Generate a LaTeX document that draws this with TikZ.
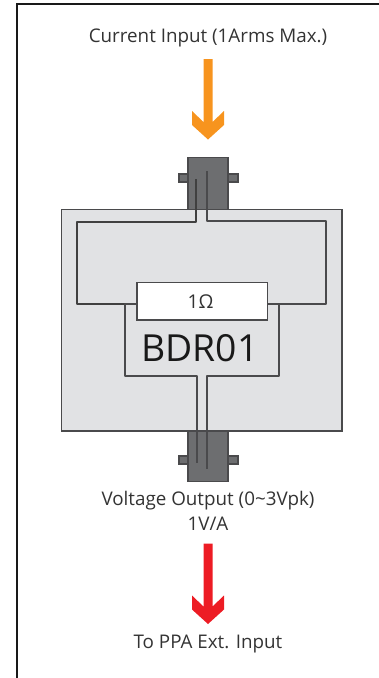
\documentclass[tikz,border=0pt]{standalone}
\usepackage{fontspec}
\setmainfont{Open Sans}
\definecolor{casegray}{HTML}{E1E2E4}
\definecolor{bncgray}{HTML}{6D6E70}
\definecolor{wiregray}{HTML}{4A4A4C}
\definecolor{inorange}{HTML}{F7941E}
\definecolor{outred}{HTML}{ED1C24}
\definecolor{labelgray}{HTML}{333333}
\tikzset{
	wire/.style={draw=wiregray, line width=1.6pt, line join=round},
	hotwire/.style={draw=black!75, line width=1.3pt, line join=round},
	label/.style={text=labelgray, font=\fontsize{18.8}{25}\selectfont, align=center, inner sep=0pt},
}
\begin{document}
\begin{tikzpicture}[x=1pt, y=-1pt]
	\useasboundingbox (0, 0) rectangle (379, 678);

	% frame
	\draw[line width=2pt, black!90] (17, 678) -- (17, 3.5) -- (379, 3.5);

	% BNC connectors
	\foreach \y/\s/\h/\name in {156.5/174/53/top, 430/456/50.5/bot} {
		\foreach \x in {179, 228}
			\draw[wiregray, fill=bncgray, line width=1.5pt] (\x, \s) rectangle ++(10, 8);
		\node[draw=wiregray, fill=bncgray, line width=1.5pt, minimum width=40pt, minimum height=\h pt, inner sep=0pt, anchor=north] (bnc\name) at (208, \y) {};
	}

	% box
	\node[draw=wiregray, fill=casegray, line width=1.5pt, minimum width=280.5pt, minimum height=221.5pt, inner sep=0pt, anchor=north west] (case) at (60.5, 208.5) {};
	\node[draw=wiregray, fill=white, line width=1.5pt, minimum width=130.5pt, minimum height=37.5pt, inner sep=0pt, anchor=north west] (res) at (136, 281.5) {};
	\node[text=labelgray, font=\fontsize{19}{19}\selectfont, inner sep=0pt, anchor=base] (ohm) at (200.5, 308) {1Ω};
	\node[text=black!90, font=\fontsize{37.3}{40}\selectfont, inner sep=0pt, anchor=base] (name) at (200, 361) {BDR01};

	\coordinate (intop) at (196, 179);
	\coordinate (gndtop) at (207, 171);
	\coordinate (inbot) at (197, 463);
	\coordinate (gndbot) at (207, 469);
	\coordinate (reswest) at (res.west |- 0, 304);
	\coordinate (reseast) at (res.east |- 0, 304);

	% wires
	\draw[hotwire] (intop) -- (196, 222) -- (77, 222) -- (77, 304) -- (reswest);
	\draw[wire] (gndtop) -- (207, 221) -- (326, 221) -- (326, 304) -- (reseast);
	\draw[wire] (reswest) -- (125, 304) -- (125, 376) -- (197, 376) -- (inbot);
	\draw[wire] (reseast) -- (279, 304) -- (279, 376) -- (207, 376) -- (gndbot);

	% labels
	\node[label] (input) at (208, 38) {Current Input (1Arms Max.)};
	\node[label] (output) at (208, 510.5) {Voltage Output (0\textasciitilde 3Vpk)\\1V/A};
	\node[label] (ppa) at (208, 644.5) {To PPA Ext. Input};

	% arrows
	\foreach \y/\arrowcolor in {59/inorange, 543.5/outred}
		\fill[\arrowcolor] (203.5, \y) -- (212.5, \y) -- (212.5, \y + 63) -- (224, \y + 52) -- (224, \y + 66) -- (208, \y + 80.5) -- (192, \y + 66) -- (192, \y + 52) -- (203.5, \y + 63) -- cycle;
\end{tikzpicture}
\end{document}
